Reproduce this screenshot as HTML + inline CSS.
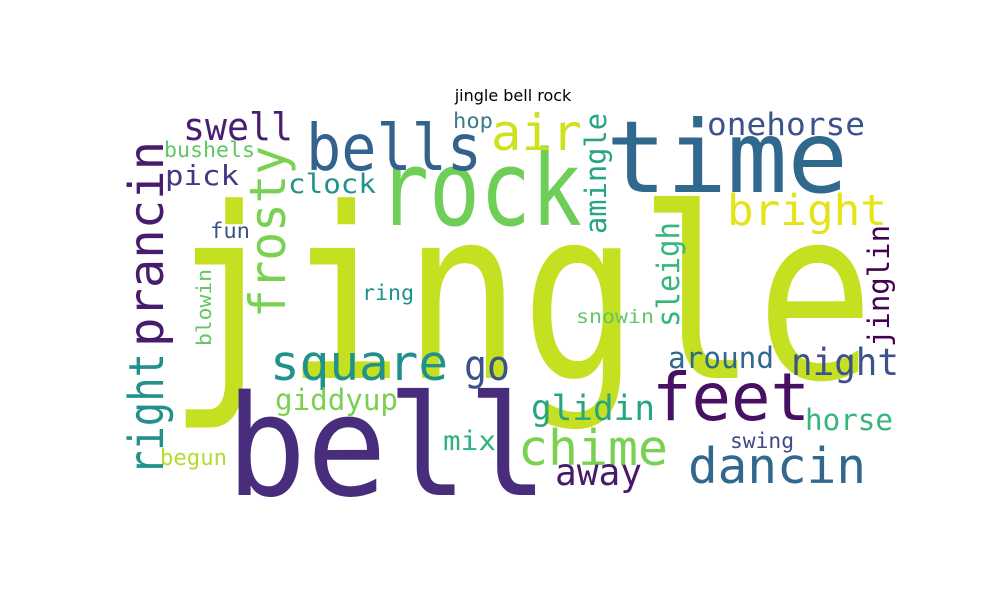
<!DOCTYPE html>
<html><head><meta charset="utf-8"><style>
body{margin:0;background:#fff}
svg{display:block}
text{font-family:"DejaVu Sans Mono","Liberation Mono",monospace}
.t{font-family:"DejaVu Sans","Liberation Sans",sans-serif}
</style></head><body>
<svg width="1000" height="600" viewBox="0 0 1000 600">
<rect width="1000" height="600" fill="#fff"/>
<text class="t" x="513" y="101" font-size="16" text-anchor="middle" fill="#000">jingle bell rock</text>
<g id="words"></g>
</svg>
<script>
// word, x, y(baseline or start), size, length, color, vertical
const words = ["jingle","bell","rock","time","bells","air","swell","bushels","pick","clock","hop","onehorse","bright","fun","ring","snowin","square","go","around","night","feet","giddyup","glidin","horse","mix","chime","swing","dancin","begun","away","right","prancin","frosty","blowin","amingle","sleigh","jinglin"];
const xs = [168,226,378,606,306,491,183,164,165,288,453,707,727,210,362,576,270,464,668,791,652,275,531,805,443,518,730,688,160,555,163,163,285,211,606,679,889];
const ys = [378,495,225,192,170,150,140,157,185,193,128,135,225,238,300,323,380,380,368,375,420,410,420,430,450,465,448,483,465,485,475,347,318,346,234,327,347];
const sizes = [238,140,104,100,64,50,38,21,28,27,21,31,43,21,21,19,49,42,29,37,66,29,35,29,27,49,21,49,22,37,48,48,50,20,29,31,29];
const lens = [706,322,204,242,176,91,110,91,74,88,40,158,160,40,52,78,178,46,106,108,158,123,124,88,53,150,64,178,67,87,122,206,172,77,121,105,122];
const colors = ["#c5e021","#472d7b","#6ece58","#31688e","#33638d","#cde11d","#481f70","#5ec962","#453781","#21918c","#3e7a8f","#3b528b","#e5e419","#3b528b","#21918c","#5ec962","#21918c","#3b528b","#31688e","#3b528b","#471063","#7ad151","#25a584","#35b779","#2db27d","#7ad151","#3e4a89","#31688e","#b5de2b","#481a6c","#21918c","#481b6d","#7ad151","#5ec962","#25a584","#35b779","#440154"];
const vertical = [0,0,0,0,0,0,0,0,0,0,0,0,0,0,0,0,0,0,0,0,0,0,0,0,0,0,0,0,0,0,1,1,1,1,1,1,1];
const g = document.getElementById('words');
const NS = 'http://www.w3.org/2000/svg';
words.forEach((w,i)=>{
  const t = document.createElementNS(NS,'text');
  t.textContent = w;
  t.setAttribute('font-size', sizes[i]);
  t.setAttribute('fill', colors[i]);
  t.setAttribute('textLength', lens[i]);
  t.setAttribute('lengthAdjust','spacingAndGlyphs');
  if (vertical[i]) {
    t.setAttribute('transform','translate('+xs[i]+','+ys[i]+') rotate(-90)');
    t.setAttribute('x',0); t.setAttribute('y',0);
  } else {
    t.setAttribute('x', xs[i]); t.setAttribute('y', ys[i]);
  }
  
  
  g.appendChild(t);
});
</script>
</body></html>
